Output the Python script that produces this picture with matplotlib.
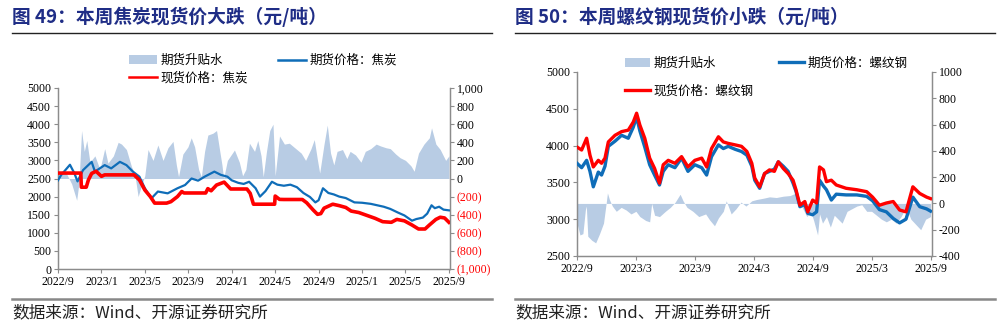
import matplotlib
matplotlib.use("Agg")
import matplotlib.pyplot as plt
from matplotlib.lines import Line2D
from matplotlib.patches import Patch

plt.rcParams['font.family'] = ['Noto Sans CJK SC', 'DejaVu Sans']
plt.rcParams['axes.unicode_minus'] = False

# ---------------- data: left chart (coke) ----------------
coke_fut_m = [0.0, 0.3, 1.1, 1.5, 1.8, 2.3, 3.1, 3.4, 4.3, 4.9, 5.7, 6.3, 6.9, 7.5, 8.0, 8.6, 9.2, 10.1, 11.0, 11.7,
              12.3, 12.9, 13.5, 14.4, 15.0, 15.6, 16.0, 16.6, 17.1, 17.6, 18.2, 18.6, 19.1, 19.7, 20.2, 20.8, 21.4,
              22.0, 22.6, 23.2, 23.7, 24.0, 24.4, 24.9, 25.4, 25.9, 26.5, 27.3, 28.0, 28.8, 29.4, 30.0, 30.6, 31.3,
              31.9, 32.6, 33.0, 33.6, 34.0, 34.4, 34.7, 35.1, 35.5, 36.0]
coke_fut = [2450, 2600, 2880, 2650, 2420, 2730, 2960, 2690, 2870, 2780, 2960, 2870, 2690, 2550, 2230, 1950, 2140, 2090,
            2230, 2320, 2500, 2440, 2550, 2690, 2600, 2550, 2450, 2380, 2350, 2410, 2230, 2000, 2150, 2410, 2330, 2300,
            2330, 2260, 2100, 1990, 1840, 1900, 2230, 2100, 2060, 2000, 1960, 1840, 1830, 1800, 1760, 1720, 1660, 1560,
            1480, 1335, 1380, 1420, 1530, 1760, 1680, 1720, 1640, 1620]

coke_spot_m = [0.0, 2.1, 2.15, 2.6, 2.8, 3.1, 3.5, 4.0, 4.3, 7.0, 7.5, 8.0, 8.5, 8.9, 10.0, 10.4, 11.0, 11.4, 11.6,
               13.6, 13.8, 14.1, 14.6, 15.3, 15.9, 17.4, 17.7, 18.0, 19.95, 20.0, 20.4, 20.8, 22.5, 22.9, 23.5, 23.9,
               24.2, 24.5, 25.3, 25.9, 26.5, 27.0, 27.7, 28.6, 29.2, 29.9, 30.7, 31.2, 31.9, 32.6, 33.2, 33.8, 34.2,
               34.8, 35.2, 35.6, 36.0]
coke_spot = [2650, 2650, 2260, 2260, 2460, 2640, 2700, 2560, 2600, 2600, 2460, 2180, 2000, 1820, 1820, 1860, 2000, 2140,
             2100, 2100, 2220, 2160, 2320, 2400, 2210, 2210, 2090, 1790, 1790, 2016, 1923, 1920, 1920, 1830, 1630, 1510,
             1530, 1680, 1790, 1750, 1700, 1600, 1560, 1464, 1400, 1307, 1290, 1370, 1330, 1215, 1105, 1105, 1215, 1370,
             1430, 1410, 1290]

coke_basis_m = [0.0, 0.34, 0.8, 1.26, 1.72, 1.93, 2.17, 2.42, 2.65, 2.94, 3.4, 3.86, 4.3, 4.6, 5.1, 5.54, 5.85, 6.3,
                6.77, 7.07, 7.38, 7.68, 7.99, 8.29, 8.75, 9.2, 9.67, 10.13, 10.59, 10.9, 11.1, 11.5, 11.97, 12.27,
                12.58, 12.95, 13.2, 13.5, 13.8, 14.26, 14.6, 14.9, 15.1, 15.25, 15.6, 16.25, 16.7, 17.0, 17.3, 17.63,
                18.1, 18.4, 18.7, 18.9, 19.2, 19.5, 19.8, 20.0, 20.4, 20.85, 21.3, 21.9, 22.4, 22.8, 23.3, 23.6, 23.9,
                24.1, 24.5, 24.8, 25.1, 25.4, 25.7, 26.2, 26.6, 26.9, 27.4, 27.9, 28.3, 28.8, 29.3, 29.7, 30.2, 30.6,
                31.1, 31.5, 32.0, 32.5, 32.8, 33.2, 33.7, 34.2, 34.4, 34.8, 35.2, 35.7, 36.0]
coke_basis = [30, 80, 50, -60, -240, -50, 530, 300, 420, 180, 250, 100, 330, 170, 250, 400, 380, 320, 130, 50, -200,
              -80, 30, 320, 200, 370, 200, 340, 410, 150, 20, 270, 350, 450, 350, 100, 20, 300, 480, 500, 530, 300, 150,
              0, 200, 315, 180, 30, 100, 390, 300, 420, 250, 20, 300, 530, 600, 30, 470, 380, 390, 330, 280, 200, 330,
              430, 200, 60, 380, 590, 280, 150, 300, 320, 220, 300, 260, 180, 300, 330, 380, 360, 340, 330, 270, 230,
              200, 140, 80, 280, 380, 450, 560, 380, 320, 200, 250]

coke_ticks = [0, 4, 8, 12, 16, 20, 24, 28, 32, 36]
coke_tick_labels = ['2022/9', '2023/1', '2023/5', '2023/9', '2024/1', '2024/5', '2024/9', '2025/1', '2025/5', '2025/9']

# ---------------- data: right chart (rebar) ----------------
rebar_m = [0.0, 0.47, 0.98, 1.32, 1.66, 2.17, 2.5, 2.85, 3.19, 3.87, 4.54, 5.22, 5.73, 6.07, 6.4, 6.9, 7.4, 7.9, 8.4,
           8.78, 9.29, 9.97, 10.65, 11.3, 12.0, 12.7, 13.2, 13.7, 14.4, 14.9, 15.4, 16.1, 16.75, 17.3, 17.8, 18.1,
           18.6, 19.1, 19.6, 20.1, 20.5, 21.0, 21.5, 22.0, 22.3, 22.7, 23.2, 23.5, 24.0, 24.4, 24.7, 25.1, 25.4,
           25.9, 26.4, 27.4, 28.5, 29.5, 30.1, 30.8, 31.5, 32.2, 32.85, 33.5, 34.2, 34.9, 35.6, 36.0]
rebar_spot = [3980, 3940, 4100, 3870, 3710, 3800, 3760, 3830, 4050, 4140, 4190, 4210, 4320, 4440, 4280, 4100, 3830,
              3690, 3490, 3740, 3800, 3760, 3850, 3710, 3800, 3830, 3710, 3960, 4120, 4050, 4030, 4010, 3990, 3920,
              3760, 3560, 3440, 3620, 3670, 3650, 3780, 3690, 3620, 3530, 3400, 3190, 3240, 3100, 3260, 3220, 3710,
              3670, 3510, 3530, 3465, 3420, 3400, 3374, 3300, 3190, 3220, 3240, 3125, 3100, 3440, 3350, 3300, 3280]
rebar_fut = [3760, 3700, 3800, 3650, 3440, 3640, 3600, 3720, 3990, 4060, 4140, 4100, 4250, 4390, 4200, 3980, 3740,
             3600, 3465, 3650, 3740, 3700, 3830, 3650, 3740, 3700, 3600, 3850, 4010, 3960, 3990, 3950, 3920, 3870,
             3720, 3530, 3420, 3620, 3650, 3680, 3780, 3720, 3650, 3490, 3380, 3170, 3200, 3080, 3060, 3100, 3530,
             3450, 3400, 3260, 3340, 3330, 3330, 3310, 3250, 3130, 3100, 3010, 2950, 3000, 3300, 3170, 3140, 3110]

rebar_basis_m = [0.0, 0.3, 0.6, 0.85, 0.95, 1.1, 1.5, 1.9, 2.3, 2.7, 3.0, 3.1, 3.3, 3.6, 4.0, 4.5, 5.0, 5.5, 6.0,
                 6.4, 7.0, 7.4, 7.6, 7.9, 8.4, 9.0, 9.5, 10.0, 10.5, 10.8, 11.2, 11.8, 12.4, 13.1, 13.5, 14.0, 14.4,
                 14.9, 15.2, 15.7, 16.2, 16.7, 17.2, 17.8, 18.3, 19.0, 19.6, 20.3, 21.0, 21.7, 22.3, 22.6, 23.0,
                 23.4, 23.8, 24.1, 24.5, 24.7, 25.0, 25.4, 25.8, 26.2, 26.6, 27.0, 27.5, 28.0, 28.5, 29.0, 29.5,
                 30.0, 30.5, 31.0, 31.5, 32.0, 32.5, 33.0, 33.5, 34.0, 34.5, 35.0, 35.5, 36.0]
rebar_basis = [-150, -240, -230, -50, -20, -250, -280, -300, -230, -150, 20, 80, 30, -20, -60, -30, -50, -80, -60,
               -100, -130, -140, 0, -90, -100, -60, -30, 10, 70, 20, -30, -60, -100, -80, -125, -170, -110, -60, 20,
               -80, -40, 10, -20, 20, 30, 40, 50, 45, 55, 60, 80, 30, -40, -100, -60, -130, -240, -80, -150, -100,
               -180, -90, -120, -150, -60, -40, -20, -10, -60, -60, -90, -120, -140, -120, -150, -100, -30, -120,
               -160, -200, -120, -100]

rebar_ticks = [0, 6, 12, 18, 24, 30, 36]
rebar_tick_labels = ['2022/9', '2023/3', '2023/9', '2024/3', '2024/9', '2025/3', '2025/9']

# ---------------- style ----------------
BLUE = '#0F6DB8'
RED = '#FF0000'
FILL = '#B8CCE4'
NAVY = '#1F2D86'
GRAY = '#8C8C8C'
NUMFONT = 'Liberation Serif'

fig = plt.figure(figsize=(9.97, 3.34), dpi=100)


def style_axes(ax, ax2):
    ax.spines['top'].set_visible(False)
    ax2.spines['top'].set_visible(False)
    for a in (ax, ax2):
        for s in ['left', 'right', 'bottom']:
            a.spines[s].set_color(GRAY)
            a.spines[s].set_linewidth(0.9)
    ax.tick_params(axis='both', direction='out', length=3, width=0.8, color=GRAY, labelsize=8.5, pad=2)
    ax2.tick_params(axis='y', direction='out', length=3, width=0.8, color=GRAY, labelsize=8.5, pad=2)
    for lab in ax.get_xticklabels() + ax.get_yticklabels() + ax2.get_yticklabels():
        lab.set_fontfamily(NUMFONT)
    ax.set_zorder(ax2.get_zorder() + 1)
    ax.patch.set_visible(False)


# ---------------- left chart ----------------
axL = fig.add_axes([58 / 997, 1 - 269 / 334, 392 / 997, 181 / 334])
axL2 = axL.twinx()
axL2.fill_between(coke_basis_m, 0, coke_basis, color=FILL, lw=0, zorder=1)
axL.plot(coke_fut_m, coke_fut, color=BLUE, lw=1.6, zorder=3)
axL.plot(coke_spot_m, coke_spot, color=RED, lw=2.6, zorder=4)
axL.set_xlim(0, 36.1)
axL.set_ylim(0, 5000)
axL.set_yticks(range(0, 5001, 500))
axL.set_xticks(coke_ticks)
axL.set_xticklabels(coke_tick_labels)
axL2.set_ylim(-1000, 1000)
r_ticks = list(range(-1000, 1001, 200))
axL2.set_yticks(r_ticks)
axL2.set_yticklabels([f"{v:,}" if v >= 0 else f"({-v:,})" for v in r_ticks])
style_axes(axL, axL2)
for lab, v in zip(axL2.get_yticklabels(), r_ticks):
    if v < 0:
        lab.set_color(RED)

hL = [Patch(facecolor=FILL, edgecolor='none'),
      Line2D([], [], color=RED, lw=1.8),
      Line2D([], [], color=BLUE, lw=1.8)]
legL = fig.legend(hL, ['期货升贴水', '现货价格：焦炭', '期货价格：焦炭'], ncol=2,
                  loc='upper left', bbox_to_anchor=(124 / 997, 1 - 49 / 334), frameon=False,
                  fontsize=9, handlelength=2.2, handleheight=0.75, columnspacing=2.45, labelspacing=0.35,
                  handletextpad=0.3, borderaxespad=0)

# ---------------- right chart ----------------
axR = fig.add_axes([577 / 997, 1 - 256 / 334, 355 / 997, 184 / 334])
axR2 = axR.twinx()
axR2.fill_between(rebar_basis_m, 0, rebar_basis, color=FILL, lw=0, zorder=1)
axR.plot(rebar_m, rebar_fut, color=BLUE, lw=2.4, zorder=3)
axR.plot(rebar_m, rebar_spot, color=RED, lw=2.4, zorder=4)
axR.set_xlim(0, 36.15)
axR.set_ylim(2500, 5000)
axR.set_yticks(range(2500, 5001, 500))
axR.set_xticks(rebar_ticks)
axR.set_xticklabels(rebar_tick_labels)
axR2.set_ylim(-400, 1000)
axR2.set_yticks(range(-400, 1001, 200))
style_axes(axR, axR2)

hR = [Patch(facecolor=FILL, edgecolor='none'),
      Line2D([], [], color=RED, lw=2.4),
      Line2D([], [], color=BLUE, lw=2.4)]
legR = fig.legend(hR, ['期货升贴水', '现货价格：螺纹钢', '期货价格：螺纹钢'], ncol=2,
                  loc='upper left', bbox_to_anchor=(620 / 997, 1 - 52 / 334), frameon=False,
                  fontsize=9, handlelength=2.0, handleheight=0.8, columnspacing=2.0, labelspacing=1.2,
                  handletextpad=0.3, borderaxespad=0)

# ---------------- titles, rules, source ----------------
fig.text(12 / 997, 1 - 17 / 334, '图 49：本周焦炭现货价大跌（元/吨）', color=NAVY, fontsize=13.5,
         fontweight='bold', va='center', ha='left')
fig.text(515 / 997, 1 - 17 / 334, '图 50：本周螺纹钢现货价小跌（元/吨）', color=NAVY, fontsize=13.5,
         fontweight='bold', va='center', ha='left')
fig.add_artist(Line2D([12 / 997, 492 / 997], [1 - 33 / 334] * 2, color='#222222', lw=1.0))
fig.add_artist(Line2D([515 / 997, 995 / 997], [1 - 33 / 334] * 2, color='#222222', lw=1.0))
fig.add_artist(Line2D([12 / 997, 492 / 997], [1 - 299 / 334] * 2, color='#888888', lw=1.8))
fig.add_artist(Line2D([515 / 997, 995 / 997], [1 - 299 / 334] * 2, color='#888888', lw=1.8))
fig.text(12 / 997, 1 - 313 / 334, '数据来源：Wind、开源证券研究所', color='#222222', fontsize=12,
         va='center', ha='left')
fig.text(515 / 997, 1 - 313 / 334, '数据来源：Wind、开源证券研究所', color='#222222', fontsize=12,
         va='center', ha='left')

fig.savefig('out.png', dpi=100)
